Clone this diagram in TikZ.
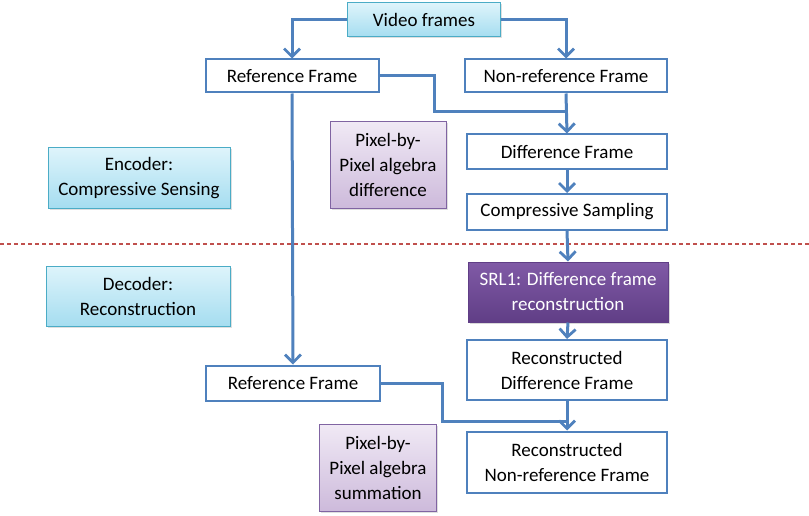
\documentclass[tikz,border=0pt]{standalone}
\usepackage{fontspec}
\setmainfont{Carlito}
\usepackage{tikz}
\usetikzlibrary{arrows.meta,positioning,shadows,calc}
\definecolor{lineblue}{RGB}{79,129,189}
\definecolor{cyanedge}{RGB}{75,172,198}
\definecolor{cyantop}{RGB}{222,244,251}
\definecolor{cyanbot}{RGB}{165,221,240}
\definecolor{lilacedge}{RGB}{128,100,162}
\definecolor{lilactop}{RGB}{240,233,245}
\definecolor{lilacbot}{RGB}{205,186,219}
\definecolor{purpletop}{RGB}{128,90,166}
\definecolor{purplebot}{RGB}{96,62,134}
\definecolor{splitred}{RGB}{192,80,77}
\tikzset{
  frame/.style={rectangle,draw=lineblue,line width=2pt,fill=white,align=center,
    inner sep=0pt,font=\fontsize{19}{25}\selectfont},
  note/.style={rectangle,draw=cyanedge,line width=1pt,top color=cyantop,bottom color=cyanbot,
    align=center,inner sep=0pt,font=\fontsize{19}{25}\selectfont,
    drop shadow={shadow xshift=1.5pt,shadow yshift=-1.5pt,opacity=0.25}},
  oper/.style={rectangle,draw=lilacedge,line width=1pt,top color=lilactop,bottom color=lilacbot,
    align=center,inner sep=0pt,font=\fontsize{19}{25}\selectfont,
    drop shadow={shadow xshift=1.5pt,shadow yshift=-1.5pt,opacity=0.25}},
  solver/.style={rectangle,draw=purplebot,line width=1pt,top color=purpletop,bottom color=purplebot,
    text=white,align=center,inner sep=0pt,font=\fontsize{19}{25}\selectfont,
    drop shadow={shadow xshift=1.5pt,shadow yshift=-1.5pt,opacity=0.3}},
  conn/.style={draw=lineblue,line width=3pt},
  arrow/.style={conn,-{Straight Barb[length=8pt,width=16pt,line width=2.8pt]}},
}
\begin{document}
\begin{tikzpicture}[x=1pt,y=-1pt]
\useasboundingbox (0,0) rectangle (809,516);

\node[note,minimum width=153pt,minimum height=34pt] (video) at (424,20) {Video frames};
\node[frame,minimum width=173pt,minimum height=33pt] (reftop) at (292,76) {Reference Frame};
\node[frame,minimum width=202pt,minimum height=33pt] (nonref) at (566,76) {Non-reference Frame};
\node[oper,minimum width=116pt,minimum height=86pt] (opdiff) at (388,165) {Pixel-by-\\Pixel algebra\\difference};
\node[frame,minimum width=200pt,minimum height=35pt] (diff) at (567,152) {Difference Frame};
\node[frame,minimum width=200pt,minimum height=36pt] (cs) at (567,212) {Compressive Sampling};
\node[note,minimum width=182pt,minimum height=61pt] (enc) at (139,178) {Encoder:\\Compressive Sensing};
\node[note,minimum width=184pt,minimum height=60pt] (dec) at (138,296) {Decoder:\\Reconstruction};
\node[solver,minimum width=200pt,minimum height=60pt] (srl) at (568,292) {SRL1: Difference frame\\reconstruction};
\node[frame,minimum width=200pt,minimum height=60pt] (recdiff) at (567,370) {Reconstructed\\Difference Frame};
\node[frame,minimum width=174pt,minimum height=35pt] (refbot) at (293,383) {Reference Frame};
\node[oper,minimum width=117pt,minimum height=87pt] (opsum) at (378,468) {Pixel-by-\\Pixel algebra\\summation};
\node[frame,minimum width=200pt,minimum height=61pt] (recnon) at (567,462) {Reconstructed\\Non-reference Frame};

% encoder / decoder split
\coordinate (splitL) at (0,244);
\coordinate (splitR) at (809,244);
\draw[splitred,line width=1.2pt,dash pattern=on 4pt off 3pt] (splitL) -- (splitR);

\coordinate (joinA) at (567,112);
\coordinate (joinB) at (567,421);

\draw[arrow] (video.west) -| (reftop.north);
\draw[arrow] (video.east) -| (nonref.north);
\draw[conn] (reftop.east) -- ++(55,0) |- (joinA);
\draw[arrow] (nonref.south) -- (diff.north);
\draw[arrow] (diff.south) -- (cs.north);
\draw[arrow] (cs.south) -- (srl.north);
\draw[arrow] (srl.south) -- (recdiff.north);
\draw[arrow] (reftop.south) -- (refbot.north);
\draw[conn] (refbot.east) -- ++(61,0) |- (joinB);
\draw[arrow] (recdiff.south) -- (recnon.north);
\end{tikzpicture}
\end{document}
